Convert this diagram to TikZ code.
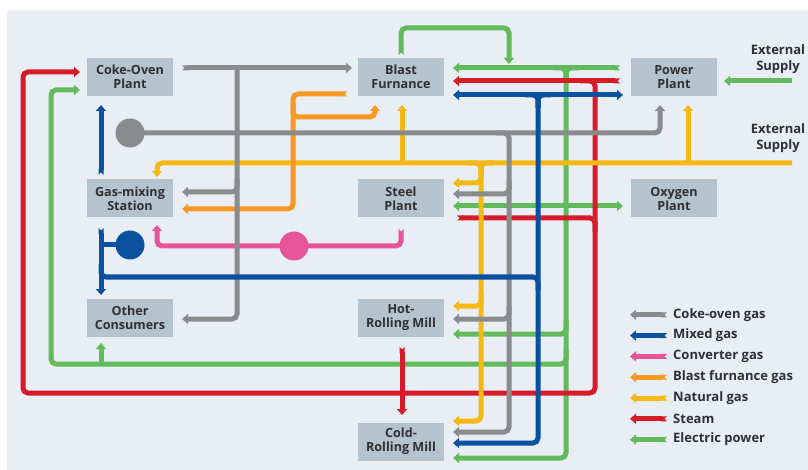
\documentclass[tikz,border=0pt]{standalone}
\usepackage{fontspec}
\setmainfont{Open Sans}
\usetikzlibrary{arrows.meta}
\definecolor{bg}{RGB}{232,238,244}
\definecolor{boxc}{RGB}{180,195,206}
\definecolor{txt}{RGB}{45,48,52}
\definecolor{cgrey}{RGB}{138,139,141}
\definecolor{cblue}{RGB}{10,82,160}
\definecolor{cpink}{RGB}{230,84,154}
\definecolor{corange}{RGB}{247,152,36}
\definecolor{cyellow}{RGB}{244,185,22}
\definecolor{cred}{RGB}{214,28,40}
\definecolor{cgreen}{RGB}{98,186,92}
\tikzset{
  >={Triangle[width=10pt,length=6pt]},
  notch/.tip={Triangle Cap[reversed]},
  plantbox/.style={fill=boxc, minimum width=86pt, minimum height=38pt, inner sep=0pt,
    align=center, text=txt, font=\bfseries\fontsize{12.6}{14}\selectfont},
  flow/.style={line width=5pt, rounded corners=5pt},
  label/.style={text=txt, font=\bfseries\fontsize{13}{15.5}\selectfont, align=center},
  legtext/.style={text=txt, anchor=west, inner sep=0pt, font=\bfseries\fontsize{13}{15}\selectfont},
  dot/.style={circle, minimum size=29pt, inner sep=0pt}
}
\begin{document}
\begin{tikzpicture}[x=1pt,y=-1pt]
\useasboundingbox (0,0) rectangle (808,470);
\fill[white] (0,0) rectangle (808,470);
\fill[bg] (7,10) rectangle (808,470);

% plant boxes
\node[plantbox] (coke) at (130,77) {Coke-Oven\\Plant};
\node[plantbox] (gasmix) at (130,198.5) {Gas-mixing\\Station};
\node[plantbox] (other) at (130,317.5) {Other\\Consumers};
\node[plantbox] (blast) at (401,77) {Blast\\Furnance};
\node[plantbox] (steel) at (401,198.5) {Steel\\Plant};
\node[plantbox] (hot) at (401,317.5) {Hot-\\Rolling Mill};
\node[plantbox] (cold) at (401,441.5) {Cold-\\Rolling Mill};
\node[plantbox] (power) at (674,77) {Power\\Plant};
\node[plantbox] (oxy) at (674,198.5) {Oxygen\\Plant};
\node[label] (ext1) at (778,59) {External\\Supply};
\node[label] (ext2) at (778,138) {External\\Supply};

% ---------- green (electric power)
\draw[flow,cgreen,->] (792,81) -- (724,81);
\draw[flow,cgreen,notch->] (620,68) -- (453,68);
\draw[flow,cgreen,notch->] (401,55) -- (401,28) -- (509,28) -- (509,64);
\draw[flow,cgreen,->] (566,68) -- (566,458) -- (453,458);
\draw[flow,cgreen] (553,68) -- (566,68) -- (566,82);
\draw[flow,cgreen] (579,68) -- (566,68) -- (566,82);
\draw[flow,cgreen,<->] (453,206) -- (623,206);
\draw[flow,cgreen,->] (566,320) -- (566,334) -- (453,334);
\draw[flow,cgreen,->] (566,350) -- (566,364) -- (51,364) -- (51,90) -- (80,90);
\draw[flow,cgreen,->] (101,364) -- (101,343);

% ---------- red (steam)
\draw[flow,cred,notch->] (620,81) -- (453,81);
\draw[flow,cred,->] (580,81) -- (595,81) -- (595,393) -- (23,393) -- (23,72) -- (80,72);
\draw[flow,cred,notch-] (457,218) -- (595,218) -- (595,232);
\draw[flow,cred,notch->] (402,347) -- (402,415);

% ---------- yellow (natural gas)
\draw[flow,cyellow,->] (792,163) -- (157,163) -- (157,177);
\draw[flow,cyellow,->] (402,163) -- (402,105);
\draw[flow,cyellow,->] (688,163) -- (688,105);
\draw[flow,cyellow,->] (481,163) -- (481,421) -- (453,421);
\draw[flow,cyellow] (468,163) -- (481,163) -- (481,176);
\draw[flow,cyellow] (494,163) -- (481,163) -- (481,176);
\draw[flow,cyellow,->] (481,170) -- (481,183) -- (453,183);
\draw[flow,cyellow,->] (481,293) -- (481,306) -- (453,306);

% ---------- orange (blast furnace gas)
\draw[flow,corange,notch->] (347,94) -- (293,94) -- (293,209) -- (182,209);
\draw[flow,corange,->] (293,104) -- (293,117) -- (375,117) -- (375,105);

% ---------- pink (converter gas)
\draw[flow,cpink,notch->] (401,229) -- (401,246) -- (157,246) -- (157,225);
\node[dot,fill=cpink] (pinkdot) at (294,246) {};

% ---------- grey (coke-oven gas)
\draw[flow,cgrey,notch->] (182,68) -- (352,68);
\draw[flow,cgrey,->] (237,68) -- (237,319) -- (182,319);
\draw[flow,cgrey,->] (237,179) -- (237,192) -- (182,192);
\draw[flow,cgrey,->] (130,133) -- (660,133) -- (660,105);
\draw[flow,cgrey,->] (496,133) -- (509,133) -- (509,432) -- (453,432);
\draw[flow,cgrey,->] (509,181) -- (509,194) -- (453,194);
\draw[flow,cgrey,->] (509,306) -- (509,319) -- (453,319);
\node[dot,fill=cgrey] (greydot) at (130,133) {};

% ---------- blue (mixed gas)
\draw[flow,cblue,notch->] (101,175) -- (101,105);
\draw[flow,cblue,notch->] (101,228) -- (101,295);
\draw[flow,cblue] (130,245) -- (101,245);
\node[dot,fill=cblue] (bluedot) at (130,245) {};
\draw[flow,cblue] (101,264) -- (101,277) -- (538,277) -- (538,290);
\draw[flow,cblue,<->] (453,95) -- (623,95);
\draw[flow,cblue,->] (538,95) -- (538,443) -- (453,443);
\draw[flow,cblue] (525,95) -- (538,95) -- (538,108);
\draw[flow,cblue] (551,95) -- (538,95) -- (538,108);

% ---------- legend
\foreach \c/\t [count=\i] in {cgrey/Coke-oven gas, cblue/Mixed gas, cpink/Converter gas,
  corange/Blast furnance gas, cyellow/Natural gas, cred/Steam, cgreen/Electric power}{
  \draw[line width=5pt,\c,notch->] (667,{294+20.8*\i}) -- (630,{294+20.8*\i});
  \node[legtext] (leg\i) at (673,{294+20.8*\i}) {\t};
}
\end{tikzpicture}
\end{document}
